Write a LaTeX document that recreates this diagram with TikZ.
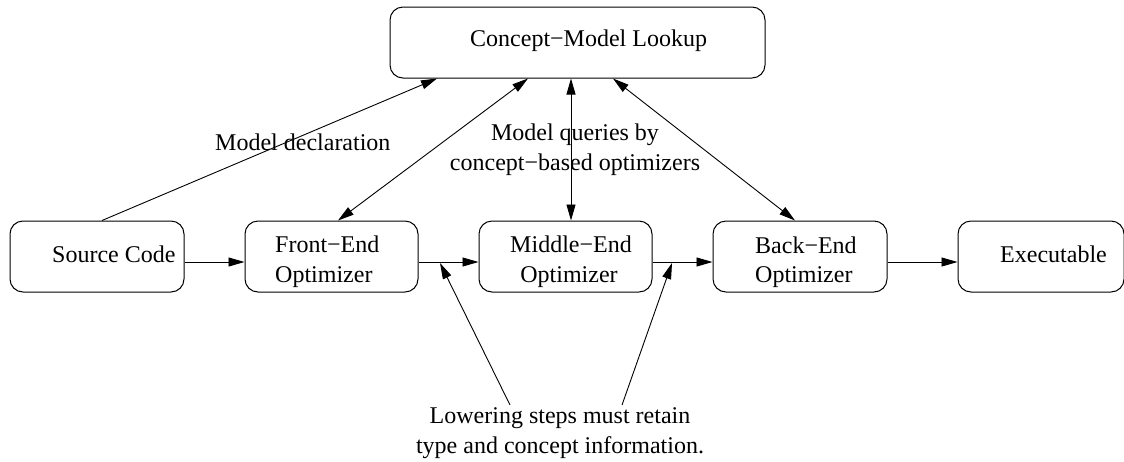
\documentclass[tikz,border=0pt]{standalone}
\usepackage{fontspec}
\setmainfont{Liberation Serif}
\usetikzlibrary{arrows.meta}
\begin{document}
\begin{tikzpicture}[x=1pt,y=-1pt,
  box/.style={draw,line width=1pt,rounded corners=13pt,minimum width=#1,minimum height=71pt,inner sep=0pt},
  box/.default=173pt,
  txt/.style={anchor=base west,inner sep=0pt,font=\fontsize{24}{30}\selectfont},
  ctxt/.style={anchor=base,inner sep=0pt,font=\fontsize{24}{30}\selectfont},
  conn/.style={line width=0.9pt,-{Triangle[length=16pt,width=9pt]}},
  bconn/.style={line width=0.9pt,{Triangle[length=16pt,width=9pt]}-{Triangle[length=16pt,width=9pt]}}]
\useasboundingbox (0,0) rectangle (1124,461);
% boxes
\node[box=375pt] (look) at (577.5,42.5) {};
\node[box=174pt] (src) at (97,256.5) {};
\node[box] (fe) at (331.5,256.5) {};
\node[box] (me) at (565.5,256.5) {};
\node[box=174pt] (be) at (800,256.5) {};
\node[box=166pt] (ex) at (1041,256.5) {};
% texts
\node[txt] (tlook) at (470,46.5) {Concept−Model Lookup};
\node[txt] (tsrc) at (52,262) {Source Code};
\node[txt] (tfe1) at (275,252) {Front−End};
\node[txt] (tfe2) at (275,282) {Optimizer};
\node[ctxt] (tme1) at (571,252) {Middle−End};
\node[ctxt] (tme2) at (569,282) {Optimizer};
\node[txt] (tbe1) at (755,253) {Back−End};
\node[txt] (tbe2) at (755,282) {Optimizer};
\node[txt] (tex) at (1000,262) {Executable};
\node[txt] (decl) at (215,150) {Model declaration};
\node[ctxt] (q1) at (575,140) {Model queries by};
\node[ctxt] (q2) at (575,170) {concept−based optimizers};
\node[ctxt] (low1) at (560,423) {Lowering steps must retain};
\node[ctxt] (low2) at (560,453) {type and concept information.};
% connectors
\draw[conn] ([xshift=5pt]src.north) -- ([xshift=-140.5pt]look.south);
\draw[bconn] ([xshift=6.5pt]fe.north) -- ([xshift=-49.5pt]look.south);
\draw[bconn] ([xshift=5.5pt]me.north) -- ([xshift=-6.5pt]look.south);
\draw[bconn] ([xshift=-5pt]be.north) -- ([xshift=35.5pt]look.south);
\draw[conn] ([yshift=-5.5pt]src.east) -- ([yshift=-5.5pt]fe.west);
\draw[conn] ([yshift=-5.5pt]fe.east) -- ([yshift=-5.5pt]me.west);
\draw[conn] ([yshift=-5.5pt]me.east) -- ([yshift=-5.5pt]be.west);
\draw[conn] ([yshift=-5.5pt]be.east) -- ([yshift=-5.5pt]ex.west);
\coordinate (l1s) at (510,405);
\coordinate (l1e) at (440,263);
\coordinate (l2s) at (622,405);
\coordinate (l2e) at (672,263);
\draw[conn] (l1s) -- (l1e);
\draw[conn] (l2s) -- (l2e);
\end{tikzpicture}
\end{document}
